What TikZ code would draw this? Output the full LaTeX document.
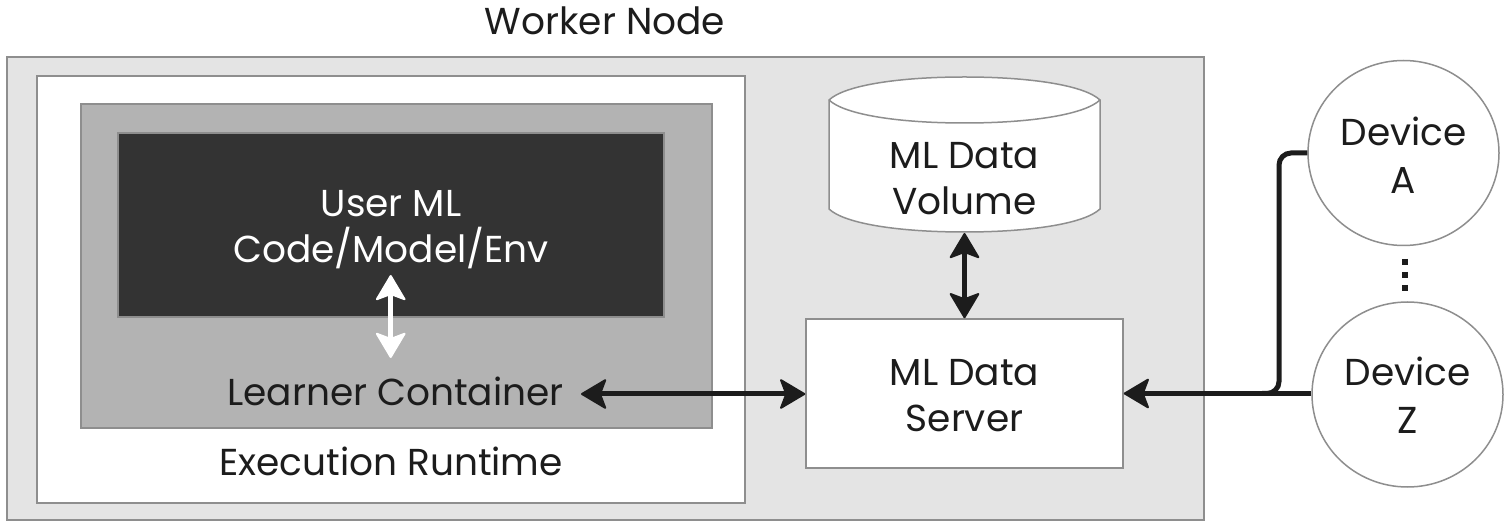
\documentclass[tikz,border=0pt]{standalone}
\usepackage{fontspec}
\setmainfont{Poppins}
\usetikzlibrary{arrows.meta,shapes.geometric}
\definecolor{edgegray}{HTML}{8E8E8E}
\definecolor{lightfill}{HTML}{E4E4E4}
\definecolor{midfill}{HTML}{B3B3B3}
\definecolor{darkfill}{HTML}{333333}
\definecolor{inkc}{HTML}{1C1C1C}
\tikzset{
  lbl/.style={font=\fontsize{37.5}{46}\selectfont,text=inkc,align=center,inner sep=0pt},
  devlbl/.style={font=\fontsize{37.5}{47.5}\selectfont,text=inkc,align=center,inner sep=0pt},
  panel/.style={draw=edgegray,line width=1.5pt,rectangle},
  conn/.style={draw=inkc,line width=5pt},
  dbl/.style={{Stealth[length=27pt,width=32pt,inset=6pt,round,line width=2pt]}-{Stealth[length=27pt,width=32pt,inset=6pt,round,line width=2pt]}},
  sgl/.style={-{Stealth[length=27pt,width=32pt,inset=6pt,round,line width=2pt]}},
  device/.style={draw=edgegray,line width=1.5pt,fill=white,ellipse,minimum width=191pt,minimum height=185pt,inner sep=0pt}
}
\begin{document}
\begin{tikzpicture}[x=1pt,y=-1pt]
\useasboundingbox[fill=white] (0,0) rectangle (1508,526);
\node[panel,fill=lightfill,minimum width=1197pt,minimum height=463pt] (outer) at (605.5,288.5) {};
\node[panel,fill=white,minimum width=708pt,minimum height=427pt] (runtime) at (391,289.5) {};
\node[panel,fill=midfill,minimum width=631pt,minimum height=324pt] (container) at (396.5,266) {};
\node[panel,fill=darkfill,minimum width=546pt,minimum height=184pt] (code) at (391,225) {};
\node[panel,fill=white,minimum width=317pt,minimum height=149pt] (server) at (964.5,393.5) {};
% cylinder
\draw[draw=edgegray,line width=1.5pt,fill=white] (829,100) -- (829,209) .. controls (845,224) and (900,232) .. (964.5,232) .. controls (1029,232) and (1084,224) .. (1100,209) -- (1100,100) .. controls (1084,85) and (1029,77) .. (964.5,77) .. controls (900,77) and (845,85) .. (829,100) -- cycle;
\draw[draw=edgegray,line width=1.5pt] (829,100) .. controls (845,115) and (900,123) .. (964.5,123) .. controls (1029,123) and (1084,115) .. (1100,100);
\coordinate (volbottom) at (964.5,233);
\node[device] (devA) at (1403.5,153) {};
\node[device] (devZ) at (1407.5,394.5) {};
\node[lbl] (title) at (605,21) {Worker Node};
\node[lbl] (execlbl) at (391,461) {Execution Runtime};
\node[lbl,text=white] (codelbl) at (391,230) {User ML\\Code/Model/Env};
\node[lbl] (learner) at (395.5,391) {Learner Container};
\node[lbl] (vollbl) at (964.5,179) {ML Data\\Volume};
\node[lbl] (srvlbl) at (964.5,395.5) {ML Data\\Server};
\node[devlbl] (alabel) at (1403.5,155) {Device\\A};
\node[devlbl] (zlabel) at (1407.5,395) {Device\\Z};
\coordinate (wtop) at (390.7,275);
\coordinate (wbot) at (390.7,358);
\coordinate (lcend) at (581,394);
\draw[conn,dbl,draw=white,fill=white] (wtop) -- (wbot);
\draw[conn,dbl] (lcend) -- (lcend -| server.west);
\draw[conn,dbl] (volbottom) -- (server.north -| volbottom);
\coordinate (jn) at (1279,393.5);
\draw[conn,sgl] (devZ.west |- jn) -- (server.east |- jn);
\draw[conn,rounded corners=12pt] (devA.west) -- (devA.west -| jn) -- (jn) -- (1262,393.5);
\draw[inkc,line width=6pt,dash pattern=on 6pt off 7pt] (1405,259) -- (1405,292);
\end{tikzpicture}
\end{document}
